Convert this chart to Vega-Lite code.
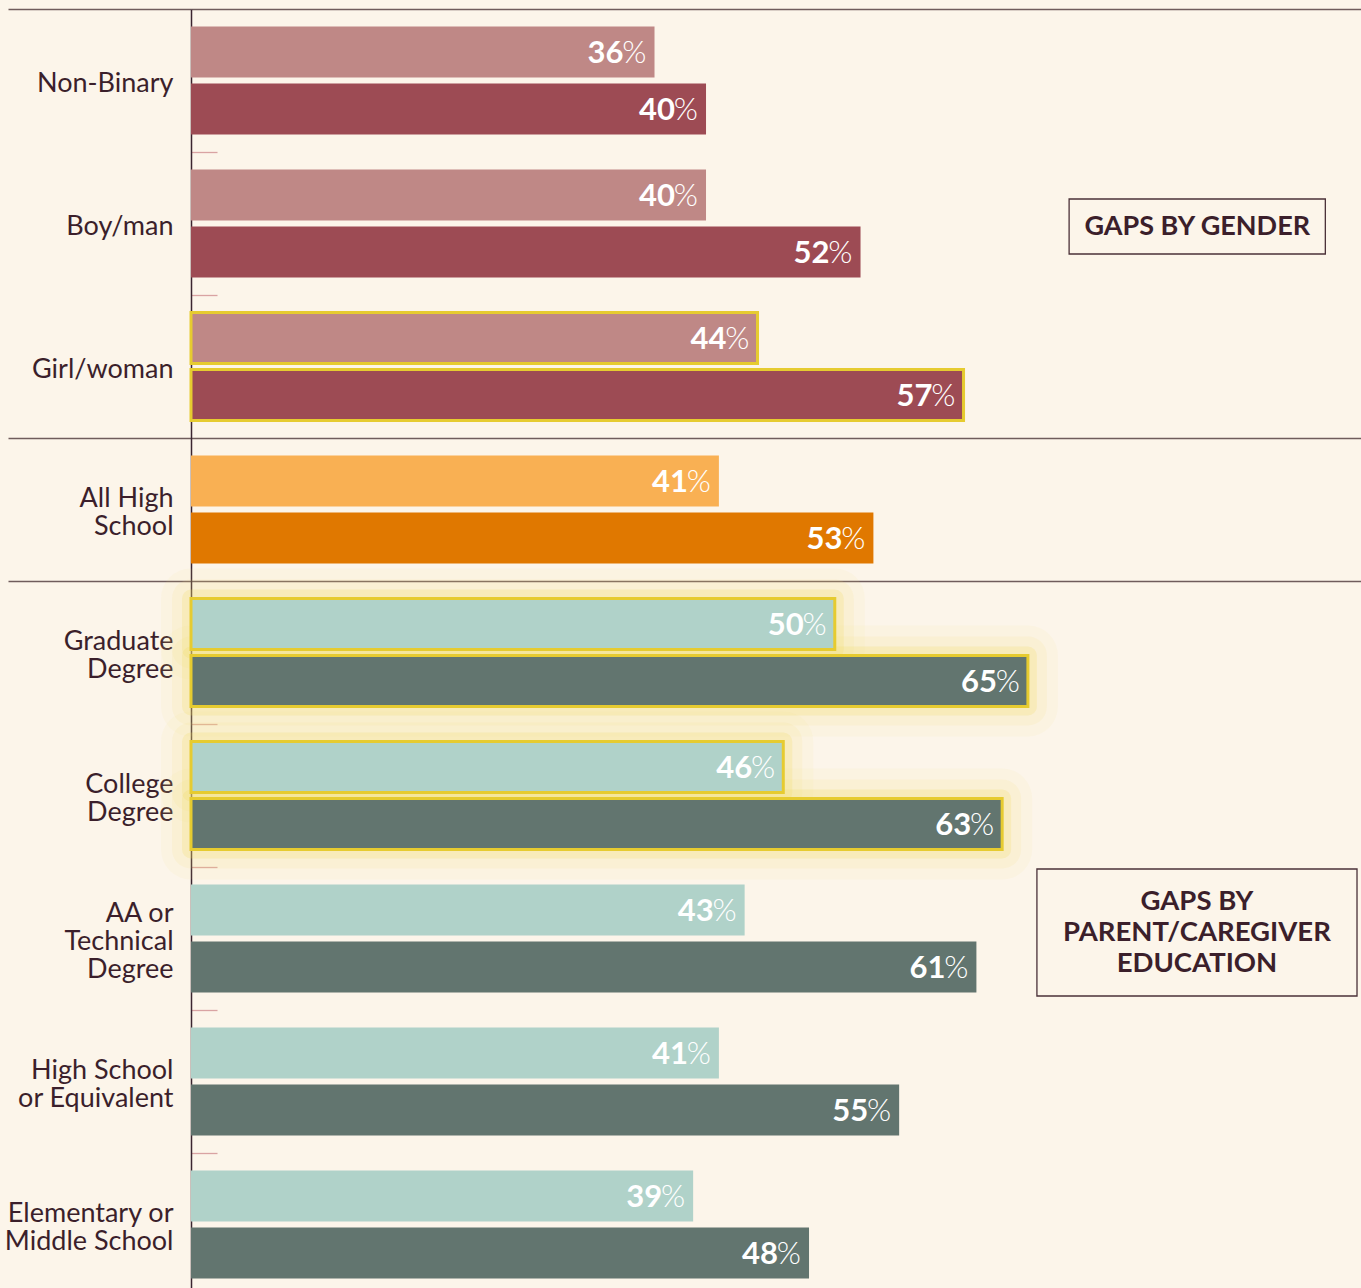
{
  "$schema": "https://vega.github.io/schema/vega-lite/v6.json",
  "width": 1170,
  "height": 1287,
  "autosize": {"type": "none"},
  "padding": {"left": 191, "top": 9, "right": 0, "bottom": 0},
  "background": "#fcf5ea",
  "config": {"view": {"stroke": null}, "font": "Lato"},
  "datasets": {
    "bars": [
      {"cat": "Non-Binary", "wave": "a", "seg": "gender-a", "value": 36, "label": 36, "hl": 0, "glow": 0},
      {"cat": "Non-Binary", "wave": "b", "seg": "gender-b", "value": 40, "label": 40, "hl": 0, "glow": 0},
      {"cat": "Boy/man", "wave": "a", "seg": "gender-a", "value": 40, "label": 40, "hl": 0, "glow": 0},
      {"cat": "Boy/man", "wave": "b", "seg": "gender-b", "value": 52, "label": 52, "hl": 0, "glow": 0},
      {"cat": "Girl/woman", "wave": "a", "seg": "gender-a", "value": 44, "label": 44, "hl": 1, "glow": 0},
      {"cat": "Girl/woman", "wave": "b", "seg": "gender-b", "value": 60, "label": 57, "hl": 1, "glow": 0},
      {"cat": "All High|School", "wave": "a", "seg": "all-a", "value": 41, "label": 41, "hl": 0, "glow": 0},
      {"cat": "All High|School", "wave": "b", "seg": "all-b", "value": 53, "label": 53, "hl": 0, "glow": 0},
      {"cat": "Graduate|Degree", "wave": "a", "seg": "edu-a", "value": 50, "label": 50, "hl": 1, "glow": 1},
      {"cat": "Graduate|Degree", "wave": "b", "seg": "edu-b", "value": 65, "label": 65, "hl": 1, "glow": 1},
      {"cat": "College|Degree", "wave": "a", "seg": "edu-a", "value": 46, "label": 46, "hl": 1, "glow": 1},
      {"cat": "College|Degree", "wave": "b", "seg": "edu-b", "value": 63, "label": 63, "hl": 1, "glow": 1},
      {"cat": "AA or|Technical|Degree", "wave": "a", "seg": "edu-a", "value": 43, "label": 43, "hl": 0, "glow": 0},
      {"cat": "AA or|Technical|Degree", "wave": "b", "seg": "edu-b", "value": 61, "label": 61, "hl": 0, "glow": 0},
      {"cat": "High School|or Equivalent", "wave": "a", "seg": "edu-a", "value": 41, "label": 41, "hl": 0, "glow": 0},
      {"cat": "High School|or Equivalent", "wave": "b", "seg": "edu-b", "value": 55, "label": 55, "hl": 0, "glow": 0},
      {"cat": "Elementary or|Middle School", "wave": "a", "seg": "edu-a", "value": 39, "label": 39, "hl": 0, "glow": 0},
      {"cat": "Elementary or|Middle School", "wave": "b", "seg": "edu-b", "value": 48, "label": 48, "hl": 0, "glow": 0}
    ],
    "notes": [
      {"cat": "Boy/man", "box": "gender", "x1": 68.2, "x2": 88.1, "xc": 78.15, "label": "GAPS BY GENDER"},
      {"cat": "AA or|Technical|Degree", "box": "edu", "x1": 65.7, "x2": 90.56, "xc": 78.13, "label": "GAPS BY|PARENT/CAREGIVER|EDUCATION"}
    ]
  },
  "encoding": {
    "y": {
      "field": "cat",
      "type": "nominal",
      "sort": null,
      "scale": {
        "domain": ["Non-Binary", "Boy/man", "Girl/woman", "All High|School", "Graduate|Degree", "College|Degree", "AA or|Technical|Degree", "High School|or Equivalent", "Elementary or|Middle School"],
        "paddingInner": 0,
        "paddingOuter": 0
      },
      "axis": {
        "title": null,
        "domainColor": "#3b2530",
        "domainWidth": 1.5,
        "tickBand": "extent",
        "ticks": true,
        "tickSize": 183,
        "tickWidth": 1.3,
        "tickColor": {"condition": {"test": "datum.extra || indexof(['Girl/woman','All High|School'], datum.value) >= 0", "value": "#6f5c5c"}, "value": "transparent"},
        "grid": true,
        "gridWidth": 1.3,
        "gridColor": {"condition": {"test": "datum.extra || indexof(['Girl/woman','All High|School'], datum.value) >= 0", "value": "#6f5c5c"}, "value": "#d9a3a3"},
        "gridDash": {"condition": {"test": "datum.extra || indexof(['Girl/woman','All High|School'], datum.value) >= 0", "value": []}, "value": [26, 3000]},
        "labelExpr": "split(datum.label, '|')",
        "labelFont": "Lato",
        "labelFontSize": 27,
        "labelColor": "#3b1f2b",
        "labelLineHeight": 28,
        "labelPadding": -165,
        "labelOffset": {"condition": [{"test": "length(split(datum.value, '|')) == 3", "value": -25}, {"test": "length(split(datum.value, '|')) == 2", "value": -11}], "value": 3},
        "labelLimit": 0,
        "labelBound": false
      }
    }
  },
  "layer": [
    {
      "data": {"name": "bars"},
      "transform": [{"filter": "datum.glow == 1"}],
      "mark": {"type": "bar", "fill": "transparent", "stroke": "#f3e07a", "strokeWidth": 60, "strokeOpacity": 0.08, "strokeJoin": "round"},
      "encoding": {
        "x": {"field": "value", "type": "quantitative", "scale": {"domain": [0, 90.87], "nice": false}, "axis": null},
        "yOffset": {"field": "wave", "type": "nominal", "scale": {"paddingInner": 0.105, "paddingOuter": 0.307}}
      }
    },
    {
      "data": {"name": "bars"},
      "transform": [{"filter": "datum.glow == 1"}],
      "mark": {"type": "bar", "fill": "transparent", "stroke": "#f3e07a", "strokeWidth": 38, "strokeOpacity": 0.12, "strokeJoin": "round"},
      "encoding": {
        "x": {"field": "value", "type": "quantitative"},
        "yOffset": {"field": "wave", "type": "nominal"}
      }
    },
    {
      "data": {"name": "bars"},
      "transform": [{"filter": "datum.glow == 1"}],
      "mark": {"type": "bar", "fill": "transparent", "stroke": "#f1dc60", "strokeWidth": 18, "strokeOpacity": 0.22, "strokeJoin": "round"},
      "encoding": {
        "x": {"field": "value", "type": "quantitative"},
        "yOffset": {"field": "wave", "type": "nominal"}
      }
    },
    {
      "data": {"name": "bars"},
      "mark": {"type": "bar", "strokeWidth": 3},
      "encoding": {
        "x": {"field": "value", "type": "quantitative"},
        "yOffset": {"field": "wave", "type": "nominal"},
        "color": {
          "field": "seg",
          "type": "nominal",
          "scale": {
            "domain": ["gender-a", "gender-b", "all-a", "all-b", "edu-a", "edu-b"],
            "range": ["#bf8886", "#9d4b54", "#f9b053", "#e07800", "#b0d2c9", "#62756f"]
          },
          "legend": null
        },
        "stroke": {"condition": {"test": "datum.hl == 1", "value": "#e6cb30"}, "value": "transparent"}
      }
    },
    {
      "data": {"name": "bars"},
      "mark": {"type": "text", "font": "Lato", "fontSize": 31, "fontWeight": "bold", "fill": "#ffffff", "align": "right", "baseline": "middle", "dx": -31, "dy": 2},
      "encoding": {
        "x": {"field": "value", "type": "quantitative"},
        "yOffset": {"field": "wave", "type": "nominal"},
        "text": {"field": "label", "type": "quantitative"}
      }
    },
    {
      "data": {"name": "bars"},
      "mark": {"type": "text", "font": "Lato", "fontSize": 31, "fontWeight": 300, "fill": "#ffffff", "align": "right", "baseline": "middle", "dx": -8, "dy": 2},
      "encoding": {
        "x": {"field": "value", "type": "quantitative"},
        "yOffset": {"field": "wave", "type": "nominal"},
        "text": {"value": "%"}
      }
    },
    {
      "data": {"name": "notes"},
      "transform": [{"filter": "datum.box == 'gender'"}],
      "mark": {"type": "bar", "height": 55, "yOffset": 3, "fill": "transparent", "stroke": "#4a3038", "strokeWidth": 1.3},
      "encoding": {
        "x": {"field": "x1", "type": "quantitative"},
        "x2": {"field": "x2"}
      }
    },
    {
      "data": {"name": "notes"},
      "transform": [{"filter": "datum.box == 'edu'"}],
      "mark": {"type": "bar", "height": 127, "yOffset": -6, "fill": "transparent", "stroke": "#4a3038", "strokeWidth": 1.3},
      "encoding": {
        "x": {"field": "x1", "type": "quantitative"},
        "x2": {"field": "x2"}
      }
    },
    {
      "data": {"name": "notes"},
      "transform": [{"filter": "datum.box == 'gender'"}],
      "mark": {"type": "text", "font": "Lato", "fontSize": 27, "fontWeight": "bold", "fill": "#3b1f2b", "align": "center", "baseline": "middle", "dy": 3},
      "encoding": {
        "x": {"field": "xc", "type": "quantitative"},
        "text": {"field": "label"}
      }
    },
    {
      "data": {"name": "notes"},
      "transform": [{"filter": "datum.box == 'edu'"}],
      "mark": {"type": "text", "font": "Lato", "fontSize": 27.5, "fontWeight": "bold", "fill": "#3b1f2b", "align": "center", "baseline": "middle", "dy": -37, "lineBreak": "|", "lineHeight": 31},
      "encoding": {
        "x": {"field": "xc", "type": "quantitative"},
        "text": {"field": "label"}
      }
    }
  ]
}
